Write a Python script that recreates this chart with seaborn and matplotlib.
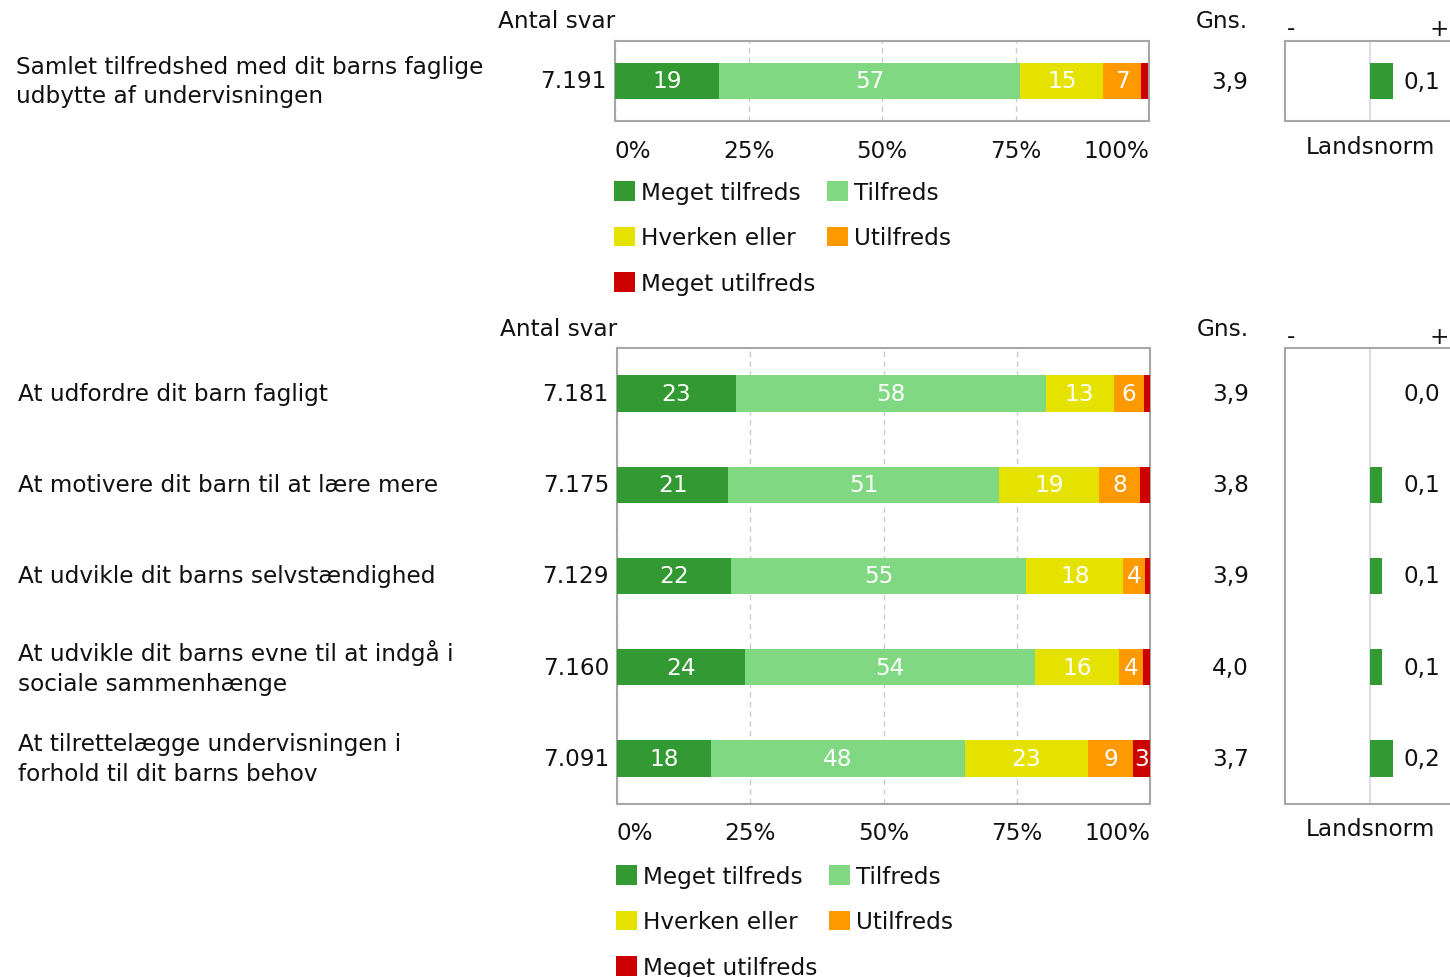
import numpy as np
import pandas as pd
import matplotlib
matplotlib.use("Agg")
import matplotlib.pyplot as plt
import seaborn as sns
from matplotlib.transforms import blended_transform_factory as btf
from matplotlib.patches import Patch

# ---------------- data ----------------
categories = ["Meget tilfreds", "Tilfreds", "Hverken eller", "Utilfreds", "Meget utilfreds"]
cat_colors = ["#339933", "#80d982", "#e6e200", "#ff9900", "#cc0000"]
x_ticks = [0, 25, 50, 75, 100]
x_ticklabels = ["0%", "25%", "50%", "75%", "100%"]

# overall question
top_questions = ["Samlet tilfredshed med dit barns faglige\nudbytte af undervisningen"]
top_n = ["7.191"]
top_mean = ["3,9"]
top_meget_tilfreds = [19.4]
top_tilfreds = [56.5]
top_hverken = [15.5]
top_utilfreds = [7.1]
top_meget_utilfreds = [1.4]
top_labels_mt = ["19"]
top_labels_t = ["57"]
top_labels_h = ["15"]
top_labels_u = ["7"]
top_labels_mu = [""]
top_norm = [0.15]
top_norm_labels = ["0,1"]

# sub questions
questions = [
    "At udfordre dit barn fagligt",
    "At motivere dit barn til at lære mere",
    "At udvikle dit barns selvstændighed",
    "At udvikle dit barns evne til at indgå i\nsociale sammenhænge",
    "At tilrettelægge undervisningen i\nforhold til dit barns behov",
]
n_svar = ["7.181", "7.175", "7.129", "7.160", "7.091"]
means = ["3,9", "3,8", "3,9", "4,0", "3,7"]
meget_tilfreds = [22.3, 20.9, 21.3, 24.0, 17.6]
tilfreds = [58.1, 50.8, 55.5, 54.5, 47.7]
hverken = [12.8, 18.7, 18.2, 15.7, 23.0]
utilfreds = [5.6, 7.8, 4.0, 4.4, 8.6]
meget_utilfreds = [1.2, 1.8, 1.0, 1.4, 3.1]
labels_mt = ["23", "21", "22", "24", "18"]
labels_t = ["58", "51", "55", "54", "48"]
labels_h = ["13", "19", "18", "16", "23"]
labels_u = ["6", "8", "4", "4", "9"]
labels_mu = ["", "", "", "", "3"]
norm = [0.0, 0.08, 0.08, 0.08, 0.15]
norm_labels = ["0,0", "0,1", "0,1", "0,1", "0,2"]

# ---------------- layout ----------------
W, H = 1450, 978
FS = 16.7
GREY = "#a6a6a6"
TXT = "#111111"

sns.set_theme(style="white")
plt.rcParams["font.family"] = ["DejaVu Sans"]
fig = plt.figure(figsize=(W / 100, H / 100), dpi=100)
fig.patch.set_facecolor("white")


def fx(x):
    return x / W


def fy(y):
    return 1 - y / H


def add_axes(x0, y0, x1, y1):
    return fig.add_axes([fx(x0), fy(y1), fx(x1) - fx(x0), (y1 - y0) / H])


def draw_panel(box, norm_box, qs, ns, mns, segs, labs, normv, norm_labs,
               q_x, n_x, m_x, head_y, bar_h, tick_pad, leg_y, land_y):
    n = len(qs)
    ax = add_axes(*box)
    axn = add_axes(*norm_box)
    cum = np.cumsum(np.array(segs), axis=0)
    # stacked bars: draw cumulative totals from the outermost segment inward
    for i in range(len(categories) - 1, -1, -1):
        d = pd.DataFrame({"q": qs, "v": cum[i]})
        sns.barplot(data=d, x="v", y="q", orient="h", color=cat_colors[i],
                    width=bar_h, saturation=1, linewidth=0, ax=ax, zorder=3)
    for i in range(len(categories)):
        left = cum[i] - np.array(segs[i])
        for r in range(n):
            if labs[i][r]:
                ax.text(left[r] + segs[i][r] / 2, r, labs[i][r], ha="center",
                        va="center", color="white", fontsize=FS, zorder=5)
    ax.set_xlim(0, 100)
    ax.set_ylim(n - 0.5, -0.5)
    ax.set_xticks(x_ticks)
    ax.set_xticklabels(x_ticklabels, fontsize=FS, color=TXT)
    tl = ax.get_xticklabels()
    tl[0].set_ha("left")
    tl[-1].set_ha("right")
    ax.tick_params(axis="x", length=0, pad=tick_pad)
    ax.set_yticks([])
    ax.set_xlabel("")
    ax.set_ylabel("")
    ax.grid(axis="x", color="#cccccc", linestyle=(0, (4, 3)), linewidth=1)
    ax.set_axisbelow(True)
    for s in ax.spines.values():
        s.set_color(GREY)
        s.set_linewidth(1.5)
        s.set_visible(True)

    # landsnorm panel
    d = pd.DataFrame({"q": qs, "v": normv})
    axn.axvline(0, color="#dcdcee", lw=1.5, zorder=1)
    sns.barplot(data=d, x="v", y="q", orient="h", color="#339933",
                width=bar_h, saturation=1, linewidth=0, ax=axn, zorder=3)
    axn.set_xlim(-0.555, 0.555)
    axn.set_ylim(n - 0.5, -0.5)
    axn.set_xticks([])
    axn.set_yticks([])
    axn.set_xlabel("")
    axn.set_ylabel("")
    for s in axn.spines.values():
        s.set_color(GREY)
        s.set_linewidth(1.5)
        s.set_visible(True)
    for r in range(n):
        axn.text(0.46, r, norm_labs[r], ha="right", va="center",
                 fontsize=FS, color=TXT)

    tr = btf(fig.transFigure, ax.transData)
    for r in range(n):
        fig.text(fx(q_x), r, qs[r], transform=tr, ha="left", va="center",
                 fontsize=FS, color=TXT, linespacing=1.36)
        fig.text(fx(n_x), r, ns[r], transform=tr, ha="right", va="center",
                 fontsize=FS, color=TXT)
        fig.text(fx(m_x), r, mns[r], transform=tr, ha="right", va="center",
                 fontsize=FS, color=TXT)
    fig.text(fx(box[0]), fy(head_y), "Antal svar", ha="right", va="center",
             fontsize=FS, color=TXT)
    fig.text(fx(m_x), fy(head_y), "Gns.", ha="right", va="center",
             fontsize=FS, color=TXT)
    fig.text(fx(norm_box[0] + 2), fy(head_y + 7), "-", ha="left", va="center",
             fontsize=FS, color=TXT)
    fig.text(fx(W - 1), fy(head_y + 9), "+", ha="right", va="center",
             fontsize=FS, color=TXT)
    fig.text(fx(norm_box[0] + 85), fy(land_y), "Landsnorm", ha="center",
             va="center", fontsize=FS, color=TXT)

    handles = [Patch(facecolor=c, edgecolor="none") for c in cat_colors]
    order = [0, 2, 4, 1, 3]
    fig.legend([handles[i] for i in order], [categories[i] for i in order],
               loc="upper left", bbox_to_anchor=(fx(box[0] - 1), fy(leg_y)),
               ncol=2, frameon=False, fontsize=FS, handlelength=0.9,
               handleheight=0.9, handletextpad=0.26, columnspacing=0.52,
               labelspacing=0.97, borderpad=0, borderaxespad=0,
               labelcolor=TXT)
    return ax


draw_panel((615, 42, 1149, 122), (1285, 42, 1455, 122),
           top_questions, top_n, top_mean,
           [top_meget_tilfreds, top_tilfreds, top_hverken, top_utilfreds, top_meget_utilfreds],
           [top_labels_mt, top_labels_t, top_labels_h, top_labels_u, top_labels_mu],
           top_norm, top_norm_labels,
           q_x=16, n_x=607, m_x=1248, head_y=21, bar_h=0.45, tick_pad=13,
           leg_y=182, land_y=148)

draw_panel((617, 349, 1150, 805), (1285, 349, 1455, 805),
           questions, n_svar, means,
           [meget_tilfreds, tilfreds, hverken, utilfreds, meget_utilfreds],
           [labels_mt, labels_t, labels_h, labels_u, labels_mu],
           norm, norm_labels,
           q_x=18, n_x=609, m_x=1249, head_y=329, bar_h=0.4, tick_pad=12,
           leg_y=866, land_y=830)

fig.savefig("out.png", dpi=100, facecolor="white")
